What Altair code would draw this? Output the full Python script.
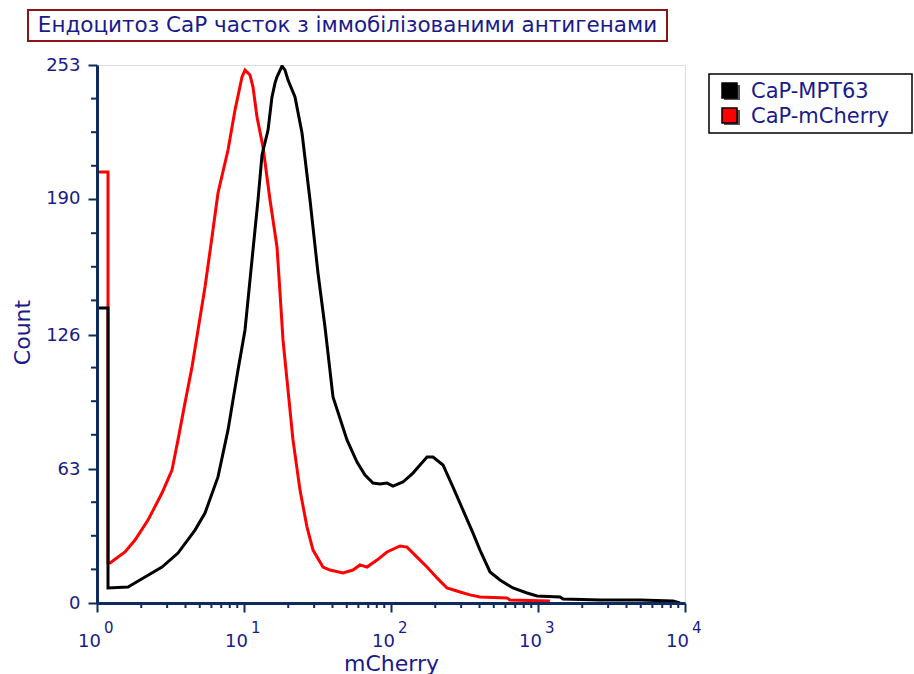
import altair as alt
import pandas as pd

# ---------------- data ----------------
mpt_x = [1, 1.188, 1.188, 1.625, 2.121, 2.768, 3.556, 4.642, 5.429, 6.655,
         7.786, 9.104, 10.16, 11.51, 12.45, 13.26, 14.57, 15.50, 16.25, 16.77,
         18.14, 19.01, 19.93, 22.23, 24.81, 28.12, 31.87, 35.56, 40.31, 50.20,
         58.71, 66.55, 75.44, 84.19, 93.94, 103.2, 120.6, 141.1, 157.5, 175.8,
         193.1, 225.8, 264.1, 308.9, 361.3, 403.1, 471.6, 551.3, 676.0, 841.9,
         984.5, 1411, 1480, 2641, 4941, 8288, 9248]
mpt_y = [138.7, 138.7, 7.05, 7.5, 12.2, 16.9, 23.5, 34.3, 42.3, 59.3,
         81.4, 109.6, 128.4, 166.0, 189.5, 210.7, 222.4, 238.0, 244.5, 247.4,
         252.5, 250.6, 245.9, 238.0, 221.0, 189.5, 155.2, 129.8, 96.9, 76.7,
         66.3, 60.2, 56.4, 56.0, 56.4, 55.0, 56.9, 61.1, 64.9, 68.6,
         68.6, 64.9, 54.5, 43.7, 32.9, 24.9, 14.6, 10.8, 7.05, 4.7,
         3.3, 2.8, 1.9, 1.4, 1.4, 0.9, 0]

cherry_x = [1, 1.188, 1.188, 1.226, 1.550, 1.814, 2.223, 2.768, 3.237, 3.556,
            3.968, 4.429, 4.866, 5.429, 6.058, 6.655, 7.786, 8.686, 9.691, 10.16,
            10.98, 11.51, 12.26, 13.47, 15.03, 16.77, 17.58, 18.42, 19.61, 21.54,
            24.04, 26.83, 29.48, 34.46, 38.46, 47.16, 55.13, 61.52, 68.66, 80.30,
            93.94, 115.1, 128.5, 150.3, 175.8, 205.6, 240.4, 294.8, 344.6, 403.1,
            615.2, 644.8, 1206]
cherry_y = [202.7, 202.7, 18.8, 18.8, 24.0, 29.6, 39.0, 51.7, 62.5, 76.7,
            94.1, 111.0, 128.4, 148.6, 172.1, 192.8, 213.0, 231.8, 247.4, 250.6,
            248.3, 242.7, 228.5, 214.4, 189.5, 167.4, 145.8, 123.7, 104.9, 76.7,
            53.1, 35.7, 24.9, 16.9, 15.5, 14.1, 15.5, 17.9, 16.9, 20.2,
            24.0, 26.8, 26.3, 21.6, 16.9, 11.8, 7.05, 5.2, 3.8, 2.8,
            2.4, 1.4, 0.9]

series_names = ["CaP-MPT63", "CaP-mCherry"]
series_colors = ["#000000", "#ff0000"]

y_major = [0, 63, 126, 190, 253]
y_minor = [15.8, 31.6, 47.4, 79.1, 94.9, 110.7, 142.3, 158.1, 173.9, 205.6, 221.4, 237.2]
x_major = [1, 10, 100, 1000, 10000]
x_exp = ["0", "1", "2", "3", "4"]
x_minor = [2, 3, 4, 5, 6, 7, 8, 9,
           20, 30, 40, 50, 60, 70, 80, 90,
           200, 300, 400, 500, 600, 700, 800, 900,
           2000, 3000, 4000, 5000, 6000, 7000, 8000, 9000]

title_text = "Ендоцитоз CaP часток з іммобілізованими антигенами"

# ---------------- styling ----------------
FONT = "DejaVu Sans"
TXT = "#1a1a8a"
AXC = "#0d2b5c"
W, H = 588, 538

x_scale = alt.Scale(type="log", domain=[1, 10000], nice=False)
y_scale = alt.Scale(domain=[0, 253], nice=False, zero=False)

x_axis = alt.Axis(values=x_major, labels=False, tickSize=9, tickWidth=2,
                  tickColor=AXC, domainColor=AXC, domainWidth=3, grid=False,
                  title="mCherry", titleX=W / 2, titleY=67, titleAlign="center",
                  titleBaseline="alphabetic", titleFontSize=22,
                  titleFontWeight="normal", titleColor=TXT, titleFont=FONT,
                  zindex=1)
y_axis = alt.Axis(values=y_major, tickSize=9, tickWidth=2, tickColor=AXC,
                  domainColor=AXC, domainWidth=3, grid=False,
                  labelFontSize=18, labelColor=TXT, labelFont=FONT, labelPadding=8,
                  title="Count", titleX=-75, titleY=267, titleAngle=270,
                  titleAlign="center", titleBaseline="middle", titleFontSize=22,
                  titleFontWeight="normal", titleColor=TXT, titleFont=FONT,
                  zindex=1)


def curve(xs, ys, color):
    df = pd.DataFrame({"mCherry": xs, "Count": ys, "i": list(range(len(xs)))})
    return alt.Chart(df).mark_line(color=color, strokeWidth=3, clip=True).encode(
        x=alt.X("mCherry:Q", scale=x_scale, axis=x_axis),
        y=alt.Y("Count:Q", scale=y_scale, axis=y_axis),
        order="i:Q",
    )


red_line = curve(cherry_x, cherry_y, series_colors[1])
black_line = curve(mpt_x, mpt_y, series_colors[0])

ymin_ticks = alt.Chart(pd.DataFrame({"Count": y_minor})).mark_rule(
    color=AXC, strokeWidth=2).encode(
    y=alt.Y("Count:Q", scale=y_scale, axis=y_axis),
    x=alt.value(-6), x2=alt.value(0))

xmin_ticks = alt.Chart(pd.DataFrame({"mCherry": x_minor})).mark_rule(
    color=AXC, strokeWidth=2).encode(
    x=alt.X("mCherry:Q", scale=x_scale, axis=x_axis),
    y=alt.value(H), y2=alt.value(H + 5))

lab_df = pd.DataFrame({"mCherry": x_major, "base": ["10"] * 5, "exp": x_exp})
x_base = alt.Chart(lab_df).mark_text(
    align="right", baseline="alphabetic", dx=4, fontSize=18, font=FONT, color=TXT
).encode(x=alt.X("mCherry:Q", scale=x_scale, axis=x_axis),
         y=alt.value(H + 44), text="base:N")
x_sup = alt.Chart(lab_df).mark_text(
    align="left", baseline="alphabetic", dx=7, fontSize=15, font=FONT, color=TXT
).encode(x=alt.X("mCherry:Q", scale=x_scale, axis=x_axis),
         y=alt.value(H + 30), text="exp:N")

one = pd.DataFrame({"k": [0]})

title_box = alt.Chart(one).mark_rect(fill="white", stroke="#8b1414", strokeWidth=2).encode(
    x=alt.value(-69), x2=alt.value(570), y=alt.value(-55), y2=alt.value(-24))
title_txt = alt.Chart(pd.DataFrame({"t": [title_text]})).mark_text(
    align="center", baseline="middle", fontSize=21.5, font=FONT, color=TXT).encode(
    x=alt.value(250.5), y=alt.value(-39), text="t:N")

legend_box = alt.Chart(one).mark_rect(fill="white", stroke="black", strokeWidth=1.5).encode(
    x=alt.value(612), x2=alt.value(815), y=alt.value(9), y2=alt.value(68))

legend_layers = []
for k, (name, col) in enumerate(zip(series_names, series_colors)):
    y0 = 18 + 25 * k
    legend_layers.append(
        alt.Chart(one).mark_rect(fill="#555555").encode(
            x=alt.value(627), x2=alt.value(643), y=alt.value(y0 + 2), y2=alt.value(y0 + 17)))
    legend_layers.append(
        alt.Chart(one).mark_rect(fill=col, stroke="black", strokeWidth=1.5).encode(
            x=alt.value(625), x2=alt.value(640), y=alt.value(y0), y2=alt.value(y0 + 15)))
    legend_layers.append(
        alt.Chart(pd.DataFrame({"t": [name]})).mark_text(
            align="left", baseline="middle", fontSize=21, font=FONT, color=TXT).encode(
            x=alt.value(654), y=alt.value(y0 + 9), text="t:N"))

chart = alt.layer(
    red_line, black_line, ymin_ticks, xmin_ticks, x_base, x_sup,
    title_box, title_txt, legend_box, *legend_layers
).properties(
    width=W, height=H, autosize="none",
    padding={"left": 97, "top": 65, "right": 229, "bottom": 71},
    background="white",
).configure_view(stroke="black", strokeWidth=1.5).configure(font=FONT)

chart.save("out.html", embed_options={"renderer": "svg", "actions": False})
